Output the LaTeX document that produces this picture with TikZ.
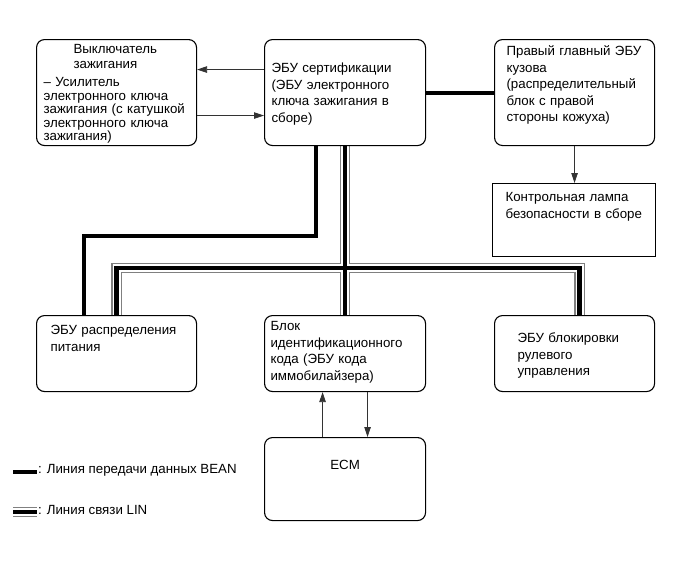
\documentclass[tikz,border=0pt]{standalone}
\usepackage{fontspec}
\setmainfont{Liberation Sans}
\usetikzlibrary{arrows.meta,backgrounds}

\begin{document}
\begin{tikzpicture}[x=1pt,y=-1pt,
 ecu/.style={draw,line width=1.1pt,rounded corners=8pt,anchor=north west,inner ysep=0pt,align=left,font=\fontsize{13.3}{16.5}\selectfont},
 lampbox/.style={ecu,sharp corners},
 sig/.style={-{Triangle[length=10pt,width=6.5pt]},line width=0.8pt,black!80},
 bean/.style={line width=4pt},
 lin/.style={line width=4.5pt,preaction={draw,black!50,line width=10.5pt},preaction={draw,white,line width=8pt}},
 key/.style={anchor=west,inner sep=0pt,font=\fontsize{13.3}{16}\selectfont}]
\useasboundingbox (0,0) rectangle (692,565);
% ECUs
\node[ecu,text width=146pt,inner xsep=7pt,text height=14pt,text depth=92pt,font=\fontsize{13.3}{13.5}\selectfont] (ign) at (36,39)
 {\hspace*{30pt}Выключатель\\[1.5pt]\hspace*{30pt}зажигания\\[4.5pt]– Усилитель\\электронного ключа\\зажигания (с катушкой\\электронного ключа\\зажигания)};
\node[ecu,text width=147pt,inner xsep=7pt,text height=33pt,text depth=73pt] (cert) at (264,39)
 {ЭБУ сертификации\\(ЭБУ электронного\\ключа зажигания в\\сборе)};
\node[ecu,text width=136pt,inner xsep=12pt,text height=16pt,text depth=90pt] (rmain) at (494,39)
 {Правый главный ЭБУ\\кузова\\(распределительный\\блок с правой\\стороны кожуха)};
\node[lampbox,text width=137pt,inner xsep=13pt,text height=18pt,text depth=55pt] (lamp) at (492,183)
 {Контрольная лампа\\безопасности в сборе};
\node[ecu,text width=132pt,inner xsep=14pt,text height=19pt,text depth=57pt] (pwr) at (36,315)
 {ЭБУ распределения\\питания};
\node[ecu,text width=149pt,inner xsep=6pt,text height=15pt,text depth=61pt] (idc) at (264,315)
 {Блок\\идентификационного\\кода (ЭБУ кода\\иммобилайзера)};
\node[ecu,text width=114pt,inner xsep=23pt,text height=27pt,text depth=49pt] (steer) at (494,315)
 {ЭБУ блокировки\\рулевого\\управления};
\node[ecu,align=center,text width=149pt,inner xsep=6pt,text height=32pt,text depth=51pt] (ecm) at (264,437) {ECM};
% legend
\node[key] (beanKey) at (38,470) {: Линия передачи данных BEAN};
\node[key] (linKey) at (38,510) {: Линия связи LIN};
% signal lines
\draw[sig] ([yshift=23pt]cert.west) -- ([yshift=23pt]ign.east);
\draw[sig] ([yshift=-23pt]ign.east) -- ([yshift=-23pt]cert.west);
\draw[sig] (rmain.south) -- (rmain.south |- lamp.north);
\draw[sig] ([xshift=-22.5pt]ecm.north) -- ([xshift=-22.5pt]idc.south);
\draw[sig] ([xshift=22.5pt]idc.south) -- ([xshift=22.5pt]ecm.north);
% buses
\begin{scope}[on background layer]
\draw[bean] (cert.east) -- (rmain.west);
\draw[bean] ([xshift=-29.5pt]cert.south) -- ++(0,90) -| ([xshift=-33pt]pwr.north);
\draw[lin] (cert.south) -- (idc.north) (pwr.north) -- ++(0,-47) -| ([xshift=5pt]steer.north);
\draw[bean] ([shift={(-25pt,-2pt)}]beanKey.west) -- ([shift={(-1pt,-2pt)}]beanKey.west);
\draw[lin] ([shift={(-25pt,-2pt)}]linKey.west) -- ([shift={(-1pt,-2pt)}]linKey.west);
\end{scope}
\end{tikzpicture}
\end{document}
